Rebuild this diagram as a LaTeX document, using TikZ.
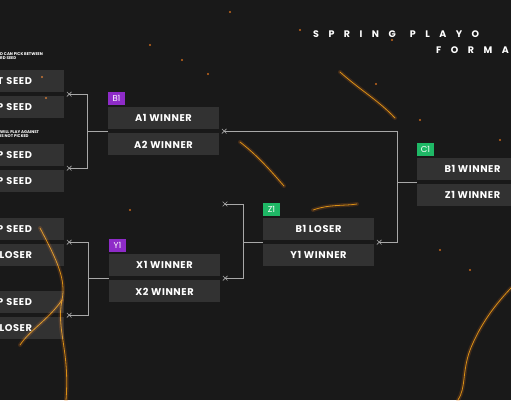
\documentclass[tikz,border=0pt]{standalone}
\usepackage{fontspec}
\setmainfont{Poppins}
\usetikzlibrary{positioning, shapes.misc, calc}
\definecolor{tagpurple}{HTML}{8E2BC8}
\definecolor{taggreen}{HTML}{1FB866}
\definecolor{wiregray}{HTML}{A8A8A8}
\definecolor{bgdark}{HTML}{191919}
\definecolor{ember}{HTML}{F07A1E}

\begin{document}
\begin{tikzpicture}[x=1pt, y=-1pt, node distance=4pt]
    \tikzstyle{match} = [rectangle, fill=white, fill opacity=0.11, text opacity=1, text=white, minimum width=111pt, minimum height=22pt, inner sep=0pt, font=\fontsize{9.8}{10}\selectfont\bfseries\addfontfeature{LetterSpace=6}]
    \tikzstyle{seed} = [match, text width=47pt, align=right, inner xsep=32pt]
    \tikzstyle{tag} = [rectangle, minimum width=17pt, minimum height=13pt, inner sep=0pt, text=white, font=\fontsize{8.5}{9}\selectfont]
    \tikzstyle{xmark} = [cross out, draw=wiregray, line width=0.6pt, minimum size=4pt, inner sep=0pt]
    \tikzstyle{wire} = [draw=wiregray, line width=0.7pt]
    \tikzstyle{note} = [text=white, font=\fontsize{4}{4.6}\selectfont\bfseries, align=left, anchor=north west, inner sep=0pt]
    \tikzstyle{heading} = [anchor=west, text=white, inner sep=0pt, font=\fontsize{9.5}{10}\selectfont\bfseries\addfontfeature{LetterSpace=100}]
    \tikzstyle{glow} = [ember, line width=4pt, opacity=0.18, line cap=round]
    \tikzstyle{crack} = [ember!70!yellow, line width=0.8pt, opacity=0.85, line cap=round]

    % background and embers
    \fill[bgdark] (0,0) rectangle (511,400);
    \useasboundingbox (0,0) rectangle (511,400);
    \clip (0,0) rectangle (511,400);
    \foreach \s in {glow, crack} {
        \draw[\s] (40,228) .. controls (58,262) and (66,280) .. (62,300) .. controls (56,330) and (70,350) .. (66,400);
        \draw[\s] (62,300) .. controls (48,320) and (30,330) .. (20,345);
        \draw[\s] (511,288) .. controls (490,310) and (478,330) .. (470,350) .. controls (462,372) and (466,388) .. (458,400);
        \draw[\s] (240,142) .. controls (258,156) and (270,170) .. (284,186);
        \draw[\s] (313,210) .. controls (330,204) and (345,206) .. (357,204);
        \draw[\s] (340,72) .. controls (360,90) and (378,100) .. (395,118);
    }
    \foreach \p in {(42,77), (46,98), (208,74), (182,60), (150,45), (376,84), (392,40), (300,30), (470,270), (440,250), (130,210), (420,120), (230,12), (500,140)}
        \fill[ember, opacity=0.8] \p circle (1.2);

    % title
    \node[heading] (title1) at (313,34) {SPRING\hspace{14pt}PLAYO};
    \node[heading] (title2) at (436,50) {FORMA};

    % left column
    \node[note] (note1) at (0,52) {D CAN PICK BETWEEN\\RD SEED};
    \node[seed] (s1) at (8.5,81) {\llap{T SEED}};
    \node[seed, below=of s1] (s2) {\llap{P SEED}};
    \node[note] (note2) at (0,130) {WILL PLAY AGAINST\\IS NOT PICKED};
    \node[seed] (s3) at (8.5,155) {\llap{P SEED}};
    \node[seed, below=of s3] (s4) {\llap{P SEED}};
    \node[seed] (s5) at (8.5,229) {\llap{P SEED}};
    \node[seed, below=of s5] (s6) {\llap{LOSER}};
    \node[seed] (s7) at (8.5,302) {\llap{P SEED}};
    \node[seed, below=of s7] (s8) {\llap{LOSER}};

    % matches
    \node[match] (a1) at (163.5,118) {A1 WINNER};
    \node[match, below=of a1] (a2) {A2 WINNER};
    \node[tag, fill=tagpurple, above right=1.5pt and 0pt of a1.north west] (tb1) {B1};

    \node[match] (x1) at (164.5,265) {X1 WINNER};
    \node[match, below=of x1] (x2) {X2 WINNER};
    \node[tag, fill=tagpurple, above right=1.5pt and 0pt of x1.north west] (ty1) {Y1};

    \node[match] (zb) at (318.5,229) {B1 LOSER};
    \node[match, below=of zb] (zy) {Y1 WINNER};
    \node[tag, fill=taggreen, above right=1.5pt and 0pt of zb.north west] (tz1) {Z1};

    \node[match] (cb) at (472.5,169) {B1 WINNER};
    \node[match, below=of cb] (cz) {Z1 WINNER};
    \node[tag, fill=taggreen, above right=1.5pt and 0pt of cb.north west] (tc1) {C1};

    % x marks
    \node[xmark] (xa) at ($(s1.south east)!.5!(s2.north east)+(5,0)$) {};
    \node[xmark] (xb) at ($(s3.south east)!.5!(s4.north east)+(5,0)$) {};
    \node[xmark] (xc) at ($(s5.south east)!.5!(s6.north east)+(5,0)$) {};
    \node[xmark] (xd) at ($(s7.south east)!.5!(s8.north east)+(5,0)$) {};
    \node[xmark] (xm) at ($(a1.south east)!.5!(a2.north east)+(5,0)$) {};
    \node[xmark] (xy) at ($(x1.south east)!.5!(x2.north east)+(5,0)$) {};
    \node[xmark] (xz) at ($(zb.south east)!.5!(zy.north east)+(5,0)$) {};
    \node[xmark] (xl) at (225,204) {};

    \coordinate (agap) at ($(a1.south west)!.5!(a2.north west)$);
    \coordinate (xgap) at ($(x1.south west)!.5!(x2.north west)$);
    \coordinate (zgap) at ($(zb.south west)!.5!(zy.north west)$);
    \coordinate (cgap) at ($(cb.south west)!.5!(cz.north west)$);

    % brackets
    \draw[wire] (xa.center) -| ($(agap)+(-20,0)$) coordinate (ja) |- (xb.center) (ja) -- (agap);
    \draw[wire] (xc.center) -| ($(xgap)+(-20,0)$) coordinate (jx) |- (xd.center) (jx) -- (xgap);
    \draw[wire] (xl.center) -| ($(zgap)+(-19,0)$) coordinate (jz) |- (xy.center) (jz) -- (zgap);
    \draw[wire] (xm.center) -| ($(cgap)+(-19,0)$) coordinate (jc) |- (xz.center) (jc) -- (cgap);
\end{tikzpicture}
\end{document}
